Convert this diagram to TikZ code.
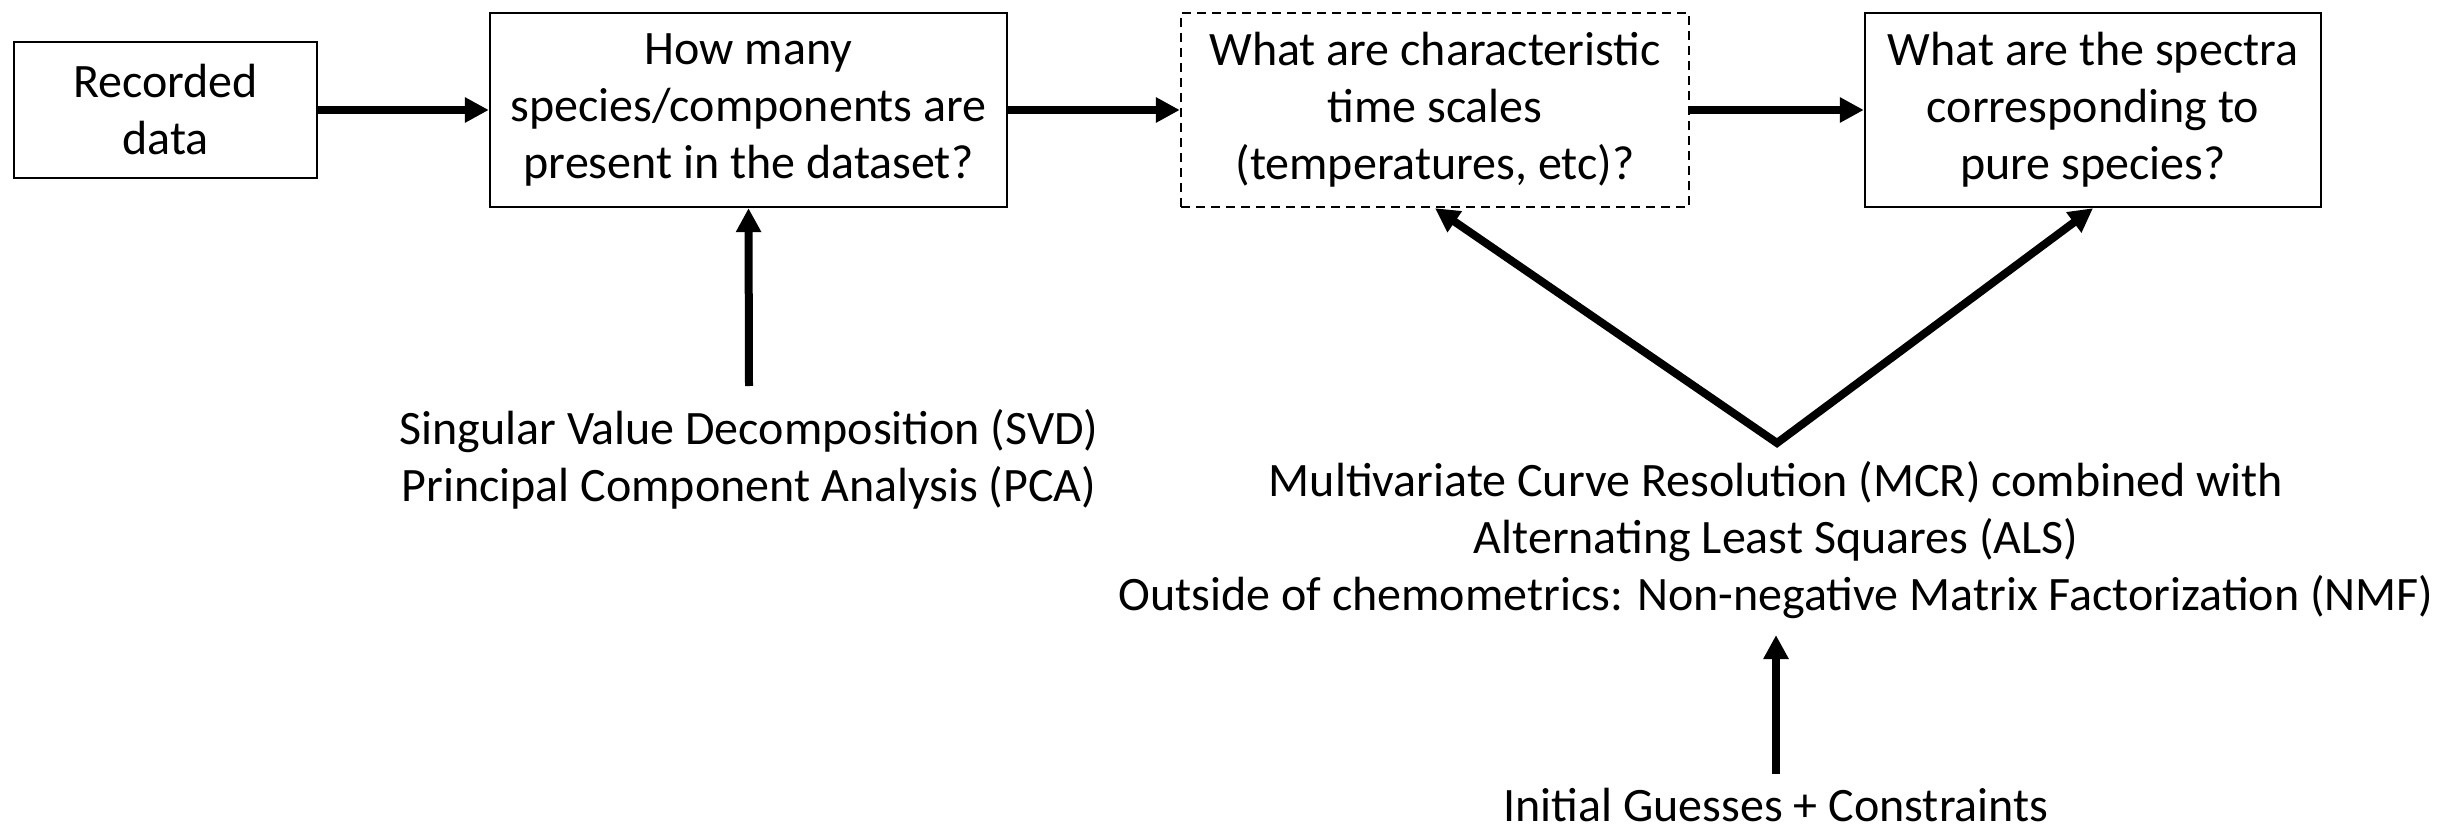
\documentclass[tikz,border=0pt]{standalone}
\usepackage{fontspec}
\setmainfont{Carlito}
\usetikzlibrary{arrows.meta}
\begin{document}
\begin{tikzpicture}[x=0.5pt,y=-0.5pt,
  txt/.style={align=center, font=\fontsize{24}{28.5}\selectfont},
  box/.style={txt, draw, line width=1.2pt, fill=white, inner sep=0pt},
  dbox/.style={box, dash pattern=on 4.5pt off 3pt},
  lbl/.style={txt, inner sep=0pt},
  arr/.style={line width=4pt, -{Triangle[length=12pt,width=12pt]}},
  darr/.style={line width=4pt, {Triangle[length=12pt,width=12pt]}-{Triangle[length=12pt,width=12pt]}}]
\useasboundingbox (0,0) rectangle (2441,829);
\fill[white] (0,0) rectangle (2441,829);
\node[box, minimum width=151.5pt, minimum height=68pt] (rec) at (165.5,110) {Recorded\\data};
\node[box, minimum width=258.5pt, minimum height=97pt] (q1) at (748.5,110) {How many\\species/components are\\present in the dataset?};
\node[dbox, minimum width=254pt, minimum height=97pt] (q2) at (1435,110) {What are characteristic\\time scales\\(temperatures, etc)?};
\node[box, minimum width=228pt, minimum height=97pt] (q3) at (2093,110) {What are the spectra\\corresponding to\\pure species?};
\node[lbl] (svd) at (749,459) {Singular Value Decomposition (SVD)\\Principal Component Analysis (PCA)};
\node[lbl, inner sep=8pt] (mcr) at (1776,540) {Multivariate Curve Resolution (MCR) combined with\\Alternating Least Squares (ALS)\\Outside of chemometrics: Non-negative Matrix Factorization (NMF)};
\node[lbl, anchor=base] (ig) at (1776,821) {Initial Guesses + Constraints};
\coordinate (svdtop) at (749,386);
\coordinate (apex) at (1777,443);
\coordinate (igtop) at (1776,774);
\draw[arr] (rec.east) -- (q1.west);
\draw[arr] (q1.east) -- (q2.west);
\draw[arr] (q2.east) -- (q3.west);
\draw[arr] (svdtop) -- (q1.south);
\draw[darr, line join=miter] (q2.south) -- (apex) -- (q3.south);
\draw[arr] (igtop) -- (igtop |- mcr.south);
\end{tikzpicture}
\end{document}
